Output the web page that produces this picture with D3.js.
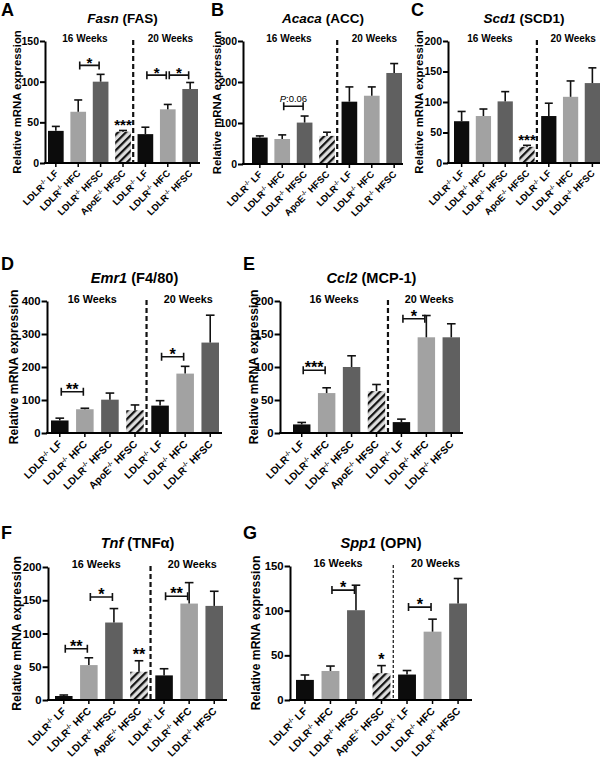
<!DOCTYPE html>
<html><head><meta charset="utf-8">
<script src="https://cdn.jsdelivr.net/npm/d3@7"></script>
<style>
body{margin:0;background:#fff}
svg{display:block}
text{font-family:Arial,"Liberation Sans",Helvetica,sans-serif;fill:#000}
</style>
</head><body>
<svg id="c" width="600" height="758"></svg>
<script>
// ---------------- data ----------------
const genotypes = ["LDLR","LDLR","LDLR","ApoE","LDLR","LDLR","LDLR"];
const diets = ["LF","HFC","HFSC","HFSC","LF","HFC","HFSC"];
const weekLabels = ["16 Weeks","20 Weeks"];
const panelLetters = ["A","B","C","D","E","F","G"];
const genes = ["Fasn","Acaca","Scd1","Emr1","Ccl2","Tnf","Spp1"];
const proteins = ["(FAS)","(ACC)","(SCD1)","(F4/80)","(MCP-1)","(TNFα)","(OPN)"];
const yAxisLabel = "Relative mRNA expression";

const fasnMean  = [39.5, 63, 100, 38.5, 35.5, 66, 91];
const fasnSem   = [5.5, 14.5, 9, 1.5, 8.5, 6, 8];
const acacaMean = [64.5, 61, 101, 68.5, 152, 166.5, 222];
const acacaSem  = [4, 10, 16, 9, 36, 21.5, 23];
const scd1Mean  = [68.5, 77, 101, 26.5, 77, 108.5, 131];
const scd1Sem   = [16, 11.5, 16, 2.5, 21, 26, 25];
const emr1Mean  = [38, 72, 101, 69, 83, 180, 274];
const emr1Sem   = [7, 3, 20, 16, 15, 22, 83];
const ccl2Mean  = [13, 60.5, 100, 63.5, 16.5, 145, 145];
const ccl2Sem   = [3, 8, 17, 10, 4.5, 33, 20.5];
const tnfMean   = [6, 52.5, 116.5, 42.5, 37, 145, 141.5];
const tnfSem    = [1.5, 11, 21, 16.5, 10, 31.5, 22];
const spp1Mean  = [22.5, 32.5, 100.5, 30, 28.5, 76.5, 108];
const spp1Sem   = [5.5, 5.5, 28, 8.5, 4.5, 14, 28];

const yMax  = [150, 300, 200, 400, 200, 200, 150];
const yStep = [50, 100, 50, 100, 50, 50, 50];

// significance: bracket between bars a and b at value v, or star over bar a
const fasnSig  = [{a:1,b:2,v:120,t:"*"},{a:4,b:5,v:108,t:"*"},{a:5,b:6,v:108,t:"*"},{a:3,t:"***"}];
const acacaSig = [{a:1,b:2,v:141,t:"P:0.06"}];
const scd1Sig  = [{a:3,t:"***"}];
const emr1Sig  = [{a:0,b:1,v:125,t:"**"},{a:4,b:5,v:231,t:"*"}];
const ccl2Sig  = [{a:0,b:1,v:95,t:"***"},{a:4,b:5,v:173,t:"*"}];
const tnfSig   = [{a:0,b:1,v:77,t:"**"},{a:1,b:2,v:155,t:"*"},{a:4,b:5,v:156,t:"**"},{a:3,t:"**"}];
const spp1Sig  = [{a:1,b:2,v:123,t:"*"},{a:4,b:5,v:104,t:"*"},{a:3,t:"*"}];

const means = [fasnMean, acacaMean, scd1Mean, emr1Mean, ccl2Mean, tnfMean, spp1Mean];
const sems  = [fasnSem, acacaSem, scd1Sem, emr1Sem, ccl2Sem, tnfSem, spp1Sem];
const sigs  = [fasnSig, acacaSig, scd1Sig, emr1Sig, ccl2Sig, tnfSig, spp1Sig];

// ---------------- layout ----------------
const layout = [
  {ax:45,  b0:48,  b1:198, x1:200, yT:41,  yB:163, lx:17,  s:1,    lX:1,   lY:16,  tY:23,  wY:42},
  {ax:243, b0:252, b1:402, x1:403, yT:41,  yB:164, lx:217, s:1,    lX:211, lY:16,  tY:23,  wY:42},
  {ax:448, b0:454, b1:600, x1:600, yT:41,  yB:163, lx:419, s:1,    lX:411, lY:16,  tY:23,  wY:42},
  {ax:47,  b0:51,  b1:219, x1:222, yT:301, yB:433, lx:14,  s:1.08, lX:1,   lY:270, tY:283, wY:303},
  {ax:280, b0:293, b1:460, x1:463, yT:301, yB:433, lx:254, s:1.08, lX:243, lY:270, tY:283, wY:303},
  {ax:48,  b0:55,  b1:223, x1:227, yT:567, yB:700, lx:17,  s:1.08, lX:1,   lY:539, tY:548, wY:568},
  {ax:290, b0:296, b1:467, x1:472, yT:566, yB:700, lx:256, s:1.08, lX:243, lY:539, tY:548, wY:567, thin:true}
];
const fills = ["#0c0c0c","#a2a2a2","#606060","url(#hatch)","#0c0c0c","#a2a2a2","#606060"];

const svg = d3.select("#c");
const defs = svg.append("defs");
const pat = defs.append("pattern").attr("id","hatch").attr("patternUnits","userSpaceOnUse")
  .attr("width",5.5).attr("height",5.5).attr("patternTransform","rotate(45)");
pat.append("rect").attr("width",5.5).attr("height",5.5).attr("fill","#dddddd");
pat.append("rect").attr("width",2.2).attr("height",5.5).attr("fill","#111");

means.forEach((mean, i) => {
  const L = layout[i], s = L.s, sem = sems[i];
  const g = svg.append("g");
  const x = d3.scaleBand().domain(d3.range(7)).range([L.b0, L.b1]).paddingInner(0.3).paddingOuter(0);
  const bw = x.bandwidth();
  const cx = j => x(j) + bw / 2;
  const y = d3.scaleLinear().domain([0, yMax[i]]).range([L.yB, L.yT]);

  // bars
  g.selectAll("rect.bar").data(mean).join("rect").attr("class","bar")
    .attr("x",(d,j)=>x(j)).attr("width",bw)
    .attr("y",d=>y(d)).attr("height",d=>L.yB-y(d))
    .attr("fill",(d,j)=>fills[j]);

  // error bars (upper only)
  const eb = g.selectAll("g.eb").data(mean).join("g").attr("class","eb");
  eb.append("line").attr("x1",(d,j)=>cx(j)).attr("x2",(d,j)=>cx(j))
    .attr("y1",d=>y(d)).attr("y2",(d,j)=>y(d+sem[j]))
    .attr("stroke","#111").attr("stroke-width",1.6);
  eb.append("line").attr("x1",(d,j)=>cx(j)-4*s).attr("x2",(d,j)=>cx(j)+4*s)
    .attr("y1",(d,j)=>y(d+sem[j])).attr("y2",(d,j)=>y(d+sem[j]))
    .attr("stroke","#111").attr("stroke-width",1.6);

  // y axis
  const ya = g.append("g").attr("transform",`translate(${L.ax},0)`)
    .call(d3.axisLeft(y).tickValues(d3.range(0, yMax[i]+1, yStep[i])).tickSize(5*s).tickSizeOuter(0).tickPadding(1));
  ya.select(".domain").attr("stroke","#000").attr("stroke-width",2);
  ya.selectAll(".tick line").attr("stroke","#000").attr("stroke-width",2);
  ya.selectAll(".tick text").attr("font-size",10.5*s).attr("font-weight","bold")
    .attr("font-family","Arial, 'Liberation Sans', sans-serif").attr("fill","#000");

  // x axis
  const xa = g.append("g").attr("transform",`translate(0,${L.yB})`)
    .call(d3.axisBottom(x).tickSize(4).tickFormat(""));
  xa.select(".domain").remove();
  xa.selectAll(".tick line").attr("stroke","#000").attr("stroke-width",1.5);
  g.append("line").attr("x1",L.ax-1).attr("x2",L.x1).attr("y1",L.yB).attr("y2",L.yB)
    .attr("stroke","#000").attr("stroke-width",2);

  // x labels
  const xl = g.selectAll("text.xl").data(d3.range(7)).join("text").attr("class","xl")
    .attr("transform", j => `translate(${cx(j)+3},${L.yB+11*s}) rotate(-45)`)
    .attr("text-anchor","end").attr("font-size",9.5*s).attr("font-weight","bold");
  xl.append("tspan").text(j=>genotypes[j]);
  xl.append("tspan").attr("dy",-3.8*s).attr("font-size",6*s).text("-/-");
  xl.append("tspan").attr("dy",3.8*s).text(j=>"\u00a0"+diets[j]);

  // dashed separator
  const dx = (x(3)+bw + x(4))/2 - 1;
  g.append("line").attr("x1",dx).attr("x2",dx).attr("y1",L.yT-1).attr("y2",L.yB)
    .attr("stroke","#111").attr("stroke-width",L.thin?1.2:2.2)
    .attr("stroke-dasharray",L.thin?"3,2":"5,3");

  // week labels
  const w16 = d3.mean([0,1,2,3], cx) - 0.2*x.step();
  const w20 = d3.mean([4,5,6], cx) + 0.12*x.step();
  [w16, w20].forEach((wx,k) => {
    g.append("text").attr("x",wx).attr("y",L.wY).attr("text-anchor","middle")
      .attr("font-size",10*s).attr("font-weight","bold").text(weekLabels[k]);
  });

  // title
  const t = g.append("text").attr("x",(L.ax+L.x1)/2).attr("y",L.tY).attr("text-anchor","middle")
    .attr("font-size",13.5*s).attr("font-weight","bold");
  t.append("tspan").attr("font-style","italic").text(genes[i]);
  t.append("tspan").text("\u00a0"+proteins[i]);

  // panel letter
  g.append("text").attr("x",L.lX).attr("y",L.lY).attr("font-size",18).attr("font-weight","bold").text(panelLetters[i]);

  // y label
  g.append("text").attr("transform",`translate(${L.lx},${(L.yT+L.yB)/2}) rotate(-90)`)
    .attr("text-anchor","middle").attr("dominant-baseline","central")
    .attr("font-size",11.3*s).attr("font-weight","bold").text(yAxisLabel);

  // significance
  sigs[i].forEach(sg => {
    if (sg.b !== undefined) {
      const xa1 = cx(sg.a)+1.5, xb1 = cx(sg.b)-1.5, yy = y(sg.v);
      g.append("path").attr("d",`M${xa1},${yy-4}V${yy+4}M${xa1},${yy}H${xb1}M${xb1},${yy-4}V${yy+4}`)
        .attr("fill","none").attr("stroke","#111").attr("stroke-width",1.6);
      if (sg.t.startsWith("P")) {
        const tt = g.append("text").attr("x",(xa1+xb1)/2).attr("y",yy-4).attr("text-anchor","middle")
          .attr("font-size",9.5*s);
        tt.append("tspan").attr("font-style","italic").text("P");
        tt.append("tspan").text(sg.t.slice(1));
      } else {
        g.append("text").attr("x",(xa1+xb1)/2).attr("y",yy+3).attr("text-anchor","middle")
          .attr("font-size",15*s).attr("font-weight","bold").text(sg.t);
      }
    } else {
      const yy = y(mean[sg.a]+sem[sg.a]);
      g.append("text").attr("x",cx(sg.a)).attr("y",yy-0.5).attr("text-anchor","middle")
        .attr("font-size",15*s).attr("font-weight","bold").text(sg.t);
    }
  });
});
</script>
</body></html>
